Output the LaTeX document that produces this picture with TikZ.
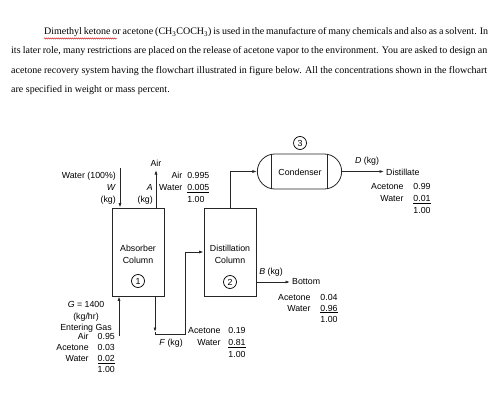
\documentclass[tikz,border=0pt]{standalone}
\usepackage{fontspec}
\setmainfont{Liberation Serif}
\setsansfont{Liberation Sans}
\usetikzlibrary{positioning, arrows.meta, shapes.misc, decorations.pathmorphing}

\begin{document}
\begin{tikzpicture}[
    x=1pt, y=-1pt,
    >={Latex[length=4.5pt,width=3pt]},
    flow/.style={draw=black!85, line width=0.8pt},
    unit/.style={draw=black!85, line width=0.8pt, minimum width=52pt, minimum height=88pt},
    tag/.style={font=\sffamily\fontsize{8.8}{12}\selectfont, inner sep=0pt, align=center},
    num/.style={draw, circle, line width=0.7pt, inner sep=0pt, minimum size=13pt, font=\sffamily\fontsize{8.8}{9}\selectfont},
    para/.style={anchor=base west, inner sep=0pt, font=\fontsize{10}{11}\selectfont}
]
    \useasboundingbox (0,0) rectangle (502,414);

    % problem statement
    \node[para] (l1) at (44,35) {\makebox[444pt][s]{Dimethyl ketone or acetone (CH\textsubscript{3}COCH\textsubscript{3}) is used in the manufacture of many chemicals and also as a solvent. In}};
    \node[para] (l2) at (11,54) {\makebox[476pt][s]{its later role, many restrictions are placed on the release of acetone vapor to the environment. You are asked to design an}};
    \node[para] (l3) at (11,73.5) {\makebox[476pt][s]{acetone recovery system having the flowchart illustrated in figure below. All the concentrations shown in the flowchart}};
    \node[para] (l4) at (11,93) {are specified in weight or mass percent.};
    \draw[red!80!black, line width=0.4pt, decorate, decoration={snake, amplitude=0.6pt, segment length=2pt}] (44,38.5) -- (117,38.5);

    % units
    \node[unit] (abs) at (138,252) {};
    \node[unit] (dist) at (230,252) {};
    \node[draw=black!85, line width=0.8pt, rounded rectangle, minimum width=91pt, minimum height=35pt] (cond) at (299.5,171.5) {};
    \draw[line width=0.8pt, black!85] (271.5,154) -- (271.5,189) (327.5,154) -- (327.5,189);

    \node[tag] (absT) at (138,254) {Absorber\\Column};
    \node[tag] (distT) at (230,254) {Distillation\\Column};
    \node[tag] (condT) at (300,172) {Condenser};
    \node[num] (n1) at (138,281) {1};
    \node[num] (n2) at (230,282) {2};
    \node[num] (n3) at (300,143) {3};

    % stream ends
    \coordinate (win) at (120,168);
    \coordinate (aout) at (156,170);
    \coordinate (ftip) at (155,332);
    \coordinate (fcorner) at (155,334);
    \coordinate (fturn) at (185,334);
    \coordinate (gin) at (119,336);
    \coordinate (dout) at (384,171.5);
    \coordinate (bout) at (290,282);

    % streams
    \draw[flow, ->] (win) -- (win |- abs.north);
    \draw[flow, ->] (aout |- abs.north) -- (aout);
    \draw[flow, ->] (ftip |- abs.south) -- (ftip);
    \draw[flow, ->] (ftip) -- (fcorner) -- (fturn) |- (dist.west);
    \draw[flow, ->] (gin) -- (gin |- abs.south);
    \draw[flow, ->] (dist.north) |- (cond.west);
    \draw[flow, ->] (cond.east) -- (dout);
    \draw[flow, ->] (bout -| dist.east) -- (bout);

    % stream labels
    \node[tag, anchor=east, align=right] (wL) at (116,188) {Water (100\%)\\\textit{W}\\(kg)};
    \node[tag, anchor=east, align=right] (aL) at (153,194) {\textit{A}\\(kg)};
    \node[tag] (airL) at (156,163) {Air};
    \node[tag, anchor=west] (aComp) at (159,188) {\begin{tabular}{@{}r@{\hspace{5pt}}l@{}}Air & 0.995\\ Water & \underline{0.005}\\ & 1.00\end{tabular}};

    \node[tag] (fL) at (171,343) {\textit{F} (kg)};
    \node[tag, anchor=west] (fComp) at (188,343) {\begin{tabular}{@{}r@{\hspace{8pt}}l@{}}Acetone & 0.19\\ Water & \underline{0.81}\\ & 1.00\end{tabular}};

    \node[tag, font=\sffamily\fontsize{8.8}{11.5}\selectfont] (gL) at (86,317) {\textit{G} = 1400\\(kg/hr)\\Entering Gas};
    \node[tag, anchor=north east, font=\sffamily\fontsize{8.8}{11}\selectfont] (gComp) at (115,332) {\begin{tabular}{@{}r@{\hspace{9pt}}l@{}}Air & 0.95\\ Acetone & 0.03\\ Water & \underline{0.02}\\ & 1.00\end{tabular}};

    \node[tag] (dL) at (367,161) {\textit{D} (kg)};
    \node[tag, anchor=west] (distL) at (386,172) {Distillate};
    \node[tag, anchor=west] (dComp) at (371,199) {\begin{tabular}{@{}r@{\hspace{10pt}}l@{}}Acetone & 0.99\\ Water & \underline{0.01}\\ & 1.00\end{tabular}};

    \node[tag] (bL) at (271,272) {\textit{B} (kg)};
    \node[tag, anchor=west] (botL) at (292,282) {Bottom};
    \node[tag, anchor=west, font=\sffamily\fontsize{8.8}{11}\selectfont] (bComp) at (278,309) {\begin{tabular}{@{}r@{\hspace{10pt}}l@{}}Acetone & 0.04\\ Water & \underline{0.96}\\ & 1.00\end{tabular}};
\end{tikzpicture}
\end{document}
